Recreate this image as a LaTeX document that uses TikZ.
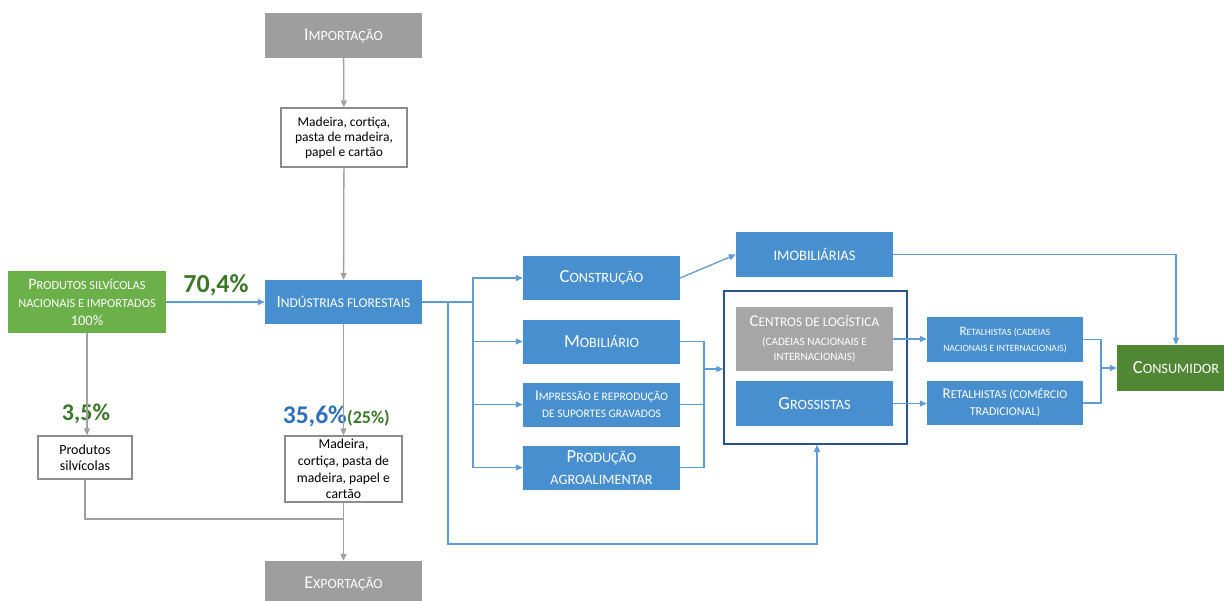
\documentclass[tikz,border=0pt]{standalone}
\usepackage{fontspec}
\setmainfont{Carlito}
\usetikzlibrary{arrows.meta}
\definecolor{boxblue}{RGB}{72,143,208}
\definecolor{boxgreen}{RGB}{108,176,74}
\definecolor{boxgreenD}{RGB}{80,135,52}
\definecolor{boxgray}{RGB}{158,158,158}
\definecolor{boxgrayL}{RGB}{166,166,166}
\definecolor{frameblue}{RGB}{44,82,140}
\definecolor{lblue}{RGB}{95,155,212}
\definecolor{lgray}{RGB}{160,160,160}
\definecolor{wborder}{RGB}{140,140,140}
\definecolor{pgreen}{RGB}{58,120,40}
\definecolor{pblue}{RGB}{46,112,186}
\newcommand\K[2]{{\fontsize{#1}{#1}\selectfont #2}}
\tikzset{
  base/.style={inner sep=0pt, align=center, text=white},
  bluebox/.style={base, fill=boxblue, minimum width=157pt, minimum height=44pt, font=\fontsize{14.2}{16}\selectfont},
  graybox/.style={base, fill=boxgray, minimum width=157pt, minimum height=45pt, font=\fontsize{14}{16}\selectfont},
  whitebox/.style={inner sep=0pt, align=center, text=black, fill=white, draw=wborder, line width=1.3pt, font=\fontsize{13.5}{15}\selectfont},
  pct/.style={inner sep=0pt, font=\fontsize{24}{26}\selectfont\bfseries},
  gline/.style={draw=lgray, line width=1.3pt},
  garrow/.style={gline, -{Triangle[length=7pt,width=6pt]}},
  bline/.style={draw=lblue, line width=1.3pt},
  barrow/.style={bline, -{Triangle[length=7pt,width=6pt]}}
}
\begin{document}
\begin{tikzpicture}[x=1pt,y=-1pt]
\useasboundingbox (0,0) rectangle (1224,600);
% left column
\node[graybox] (imp) at (343.5,35.5) {\K{18}{I}MPORTAÇÃO};
\node[whitebox, minimum width=126pt, minimum height=59pt] (mad1) at (344,137.5) {Madeira, cortiça,\\pasta de madeira,\\papel e cartão};
\node[bluebox, font=\fontsize{13.5}{16}\selectfont] (ind) at (343.5,302) {\K{17}{I}NDÚSTRIAS FLORESTAIS};
\node[base, fill=boxgreen, minimum width=158pt, minimum height=62pt, font=\fontsize{12.4}{18}\selectfont] (prod) at (87,302) {\K{16}{P}RODUTOS SILVÍCOLAS\\NACIONAIS E IMPORTADOS\\\K{14.5}{100\%}};
\node[whitebox, minimum width=94pt, minimum height=43pt, font=\fontsize{14}{16}\selectfont] (ps) at (85,457.5) {Produtos\\silvícolas};
\node[whitebox, minimum width=117pt, minimum height=66pt, font=\fontsize{13.7}{16.6}\selectfont] (mad2) at (343.5,469) {Madeira,\\cortiça, pasta de\\madeira, papel e\\cartão};
\node[graybox] (exp) at (343.5,583.5) {\K{18}{E}XPORTAÇÃO};
% middle column
\node[bluebox] (cons) at (601.5,278) {\K{18.5}{C}ONSTRUÇÃO};
\node[bluebox] (mob) at (601.5,341.5) {\K{18.5}{M}OBILIÁRIO};
\node[bluebox, font=\fontsize{11.5}{17}\selectfont] (impr) at (601.5,404.5) {\K{15}{I}MPRESSÃO E REPRODUÇÃO\\DE SUPORTES GRAVADOS};
\node[bluebox, font=\fontsize{14.3}{22}\selectfont] (agro) at (601.5,467.5) {\K{18.5}{P}RODUÇÃO\\AGROALIMENTAR};
% right part
\node[bluebox, minimum height=45pt, font=\fontsize{14.5}{16}\selectfont] (imob) at (814.5,254.5) {IMOBILIÁRIAS};
\node[draw=frameblue, line width=1.5pt, minimum width=183pt, minimum height=153pt, inner sep=0pt] (frame) at (815.5,367.5) {};
\node[base, fill=boxgrayL, minimum width=157pt, minimum height=64pt, font=\fontsize{13.3}{17}\selectfont] (cent) at (814.5,339) {\K{16.5}{C}ENTROS DE LOGÍSTICA\\[2pt]\K{11.2}{(CADEIAS NACIONAIS E}\\[-2pt]\K{11.2}{INTERNACIONAIS)}};
\node[bluebox, minimum height=45pt] (gros) at (814.5,403.5) {\K{18.5}{G}ROSSISTAS};
\node[bluebox, minimum width=156pt, minimum height=45pt, font=\fontsize{9.6}{16}\selectfont] (ret1) at (1005,339.5) {\K{13}{R}ETALHISTAS (CADEIAS\\NACIONAIS E INTERNACIONAIS)};
\node[bluebox, minimum width=156pt, minimum height=44pt, font=\fontsize{12}{17}\selectfont] (ret2) at (1005,403) {\K{14.8}{R}ETALHISTAS (COMÉRCIO\\TRADICIONAL)};
\node[base, fill=boxgreenD, minimum width=118pt, minimum height=46pt, font=\fontsize{14.3}{16}\selectfont] (consu) at (1176,368) {\K{18.5}{C}ONSUMIDOR};
% percentages
\node[pct, text=pgreen, font=\fontsize{26}{28}\selectfont\bfseries] (l70) at (216,285) {70,4\%};
\node[pct, text=pgreen] (l35) at (86,414) {3,5\%};
\node[pct, anchor=base east, text=pblue, font=\fontsize{25.5}{28}\selectfont\bfseries] (l356) at (347,423) {35,6\%};
\node[inner sep=0pt, anchor=base west, text=pgreen, font=\fontsize{18}{18}\selectfont\bfseries] (l25) at (l356.base east) {(25\%)};
% gray connectors
\draw[garrow] (imp) -- (mad1);
\draw[garrow] (mad1) -- (ind);
\draw[garrow] (prod.south) -- (prod.south |- ps.north);
\draw[garrow] (ind) -- (mad2);
\coordinate (jn) at (344,519);
\draw[gline] (ps.south) |- (jn);
\draw[garrow] (mad2) -- (exp);
% blue connectors
\draw[barrow] (prod) -- (ind);
\coordinate (b1) at (473,302);
\coordinate (b2) at (448,302);
\coordinate (fb) at (817,544);
\draw[bline] (ind.east) -- (b1);
\draw[barrow] (b1) |- (cons.west);
\draw[barrow] (b1) |- (mob.west);
\draw[barrow] (b1) |- (impr.west);
\draw[barrow] (b1) |- (agro.west);
\draw[barrow] (b2) -- (b2 |- fb) -- (fb) -- (fb |- frame.south);
\draw[barrow] (cons.east) -- (imob.west);
\coordinate (m1) at (704,369);
\draw[bline] (mob.east) -| (m1);
\draw[bline] (impr.east) -| (m1);
\draw[bline] (agro.east) -| (m1);
\draw[barrow] (m1) -- (m1 -| frame.west);
\draw[barrow] (cent.east) -- (cent.east -| ret1.west);
\draw[barrow] (gros.east) -- (gros.east -| ret2.west);
\coordinate (m2) at (1101,368);
\draw[bline] (ret1.east) -| (m2);
\draw[bline] (ret2.east) -| (m2);
\draw[barrow] (m2) -- (m2 -| consu.west);
\draw[barrow] (imob.east) -| (consu.north);
\end{tikzpicture}
\end{document}
